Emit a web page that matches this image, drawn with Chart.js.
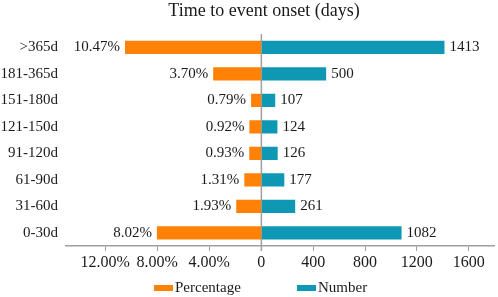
<!DOCTYPE html>
<html>
<head>
<meta charset="utf-8">
<script src="https://cdn.jsdelivr.net/npm/chart.js@4/dist/chart.umd.min.js"></script>
<style>
    html, body { margin: 0; padding: 0; background: #fff; }
    #wrap { width: 498px; height: 297px; }
</style>
</head>
<body>
<div id="wrap"><canvas id="chart-onset"></canvas></div>
<script>

const categories = ['>365d', '181-365d', '151-180d', '121-150d', '91-120d', '61-90d', '31-60d', '0-30d'];
const percentage = [10.47, 3.70, 0.79, 0.92, 0.93, 1.31, 1.93, 8.02];
const number = [1413, 500, 107, 124, 126, 177, 261, 1082];

const pctTicks = [4, 8, 12];
const numTicks = [0, 400, 800, 1200, 1600];

const serif = "'Liberation Serif', 'Times New Roman', serif";
const gray = '#a0a0a0';
const textColor = '#1a1a1a';

// labels at the end of each bar, the gray line through 0 and the legend
const decorations = {
    id: 'decorations',
    afterLayout(chart) {
        // title sits a bit right of the canvas centre
        chart.titleBlock.left = 32;
    },
    beforeDatasetsDraw(chart) {
        const ctx = chart.ctx;
        const x0 = chart.scales.xNum.getPixelForValue(0);
        ctx.save();
        ctx.strokeStyle = gray;
        ctx.lineWidth = 1.5;
        ctx.beginPath();
        ctx.moveTo(x0, chart.chartArea.top);
        ctx.lineTo(x0, chart.chartArea.bottom + 5);
        ctx.stroke();
        ctx.restore();
    },
    afterDatasetsDraw(chart) {
        const ctx = chart.ctx;
        ctx.save();
        ctx.font = '15px ' + serif;
        ctx.fillStyle = textColor;
        ctx.textBaseline = 'middle';
        chart.data.datasets.forEach((ds, i) => {
            chart.getDatasetMeta(i).data.forEach((bar, j) => {
                if (i === 0) {
                    ctx.textAlign = 'right';
                    ctx.fillText(ds.data[j].toFixed(2) + '%', bar.x - 5, bar.y);
                } else {
                    ctx.textAlign = 'left';
                    ctx.fillText(ds.data[j], bar.x + 5, bar.y);
                }
            });
        });

        // legend
        let x = 154;
        const y = 288;
        ctx.textAlign = 'left';
        chart.data.datasets.forEach(ds => {
            ctx.fillStyle = ds.backgroundColor;
            ctx.fillRect(x, y - 3, 19, 6);
            ctx.fillStyle = textColor;
            ctx.fillText(ds.label, x + 21, y);
            x += 143;
        });
        ctx.restore();
    }
};

const data = {
    labels: categories,
    datasets: [{
        label: 'Percentage',
        data: percentage,
        xAxisID: 'xPct',
        backgroundColor: '#ff8106',
        grouped: false,
        barPercentage: 0.5,
        categoryPercentage: 1
    }, {
        label: 'Number',
        data: number,
        xAxisID: 'xNum',
        backgroundColor: '#0f98b4',
        grouped: false,
        barPercentage: 0.5,
        categoryPercentage: 1
    }]
};

const tickFont = { family: serif, size: 15 };
const xTickFont = { family: serif, size: 16 };

const configOnset = new Chart(
    document.getElementById('chart-onset'), {
    type: 'bar',
    data: data,
    plugins: [decorations],
    options: {
        indexAxis: 'y',
        responsive: true,
        maintainAspectRatio: false,
        animation: false,
        layout: { padding: { left: 0, right: 2, top: 0, bottom: 21 } },
        plugins: {
            title: {
                display: true,
                text: 'Time to event onset (days)',
                color: textColor,
                font: { family: serif, size: 18, weight: 'normal' },
                padding: { top: 0, bottom: 12.4 }
            },
            legend: { display: false },
            tooltip: { enabled: false }
        },
        scales: {
            y: {
                grid: { display: false, drawTicks: false },
                border: { display: false },
                ticks: {
                    color: textColor,
                    font: tickFont,
                    autoSkip: false,
                    padding: 8
                },
                afterFit(scale) { scale.width = 66; }
            },
            xPct: {
                type: 'linear',
                position: 'bottom',
                stack: 'x',
                stackWeight: 196,
                reverse: true,
                min: 0,
                max: 15,
                afterBuildTicks(scale) {
                    scale.ticks = pctTicks.map(v => ({ value: v }));
                },
                grid: {
                    drawOnChartArea: false,
                    tickColor: gray,
                    tickLength: 5
                },
                border: { color: gray, width: 1.5 },
                ticks: {
                    color: textColor,
                    font: xTickFont,
                    padding: 2,
                    maxRotation: 0,
                    autoSkip: false,
                    callback: v => v.toFixed(2) + '%'
                },
                afterFit(scale) { scale.height = 30; }
            },
            xNum: {
                type: 'linear',
                position: 'bottom',
                stack: 'x',
                stackWeight: 234,
                min: 0,
                max: 1800,
                afterBuildTicks(scale) {
                    scale.ticks = numTicks.map(v => ({ value: v }));
                },
                grid: {
                    drawOnChartArea: false,
                    tickColor: gray,
                    tickLength: 5
                },
                border: { color: gray, width: 1.5 },
                ticks: {
                    color: textColor,
                    font: xTickFont,
                    padding: 2,
                    maxRotation: 0,
                    autoSkip: false,
                    callback: v => String(v)
                },
                afterFit(scale) { scale.height = 30; }
            }
        }
    }
});
</script>
</body>
</html>
